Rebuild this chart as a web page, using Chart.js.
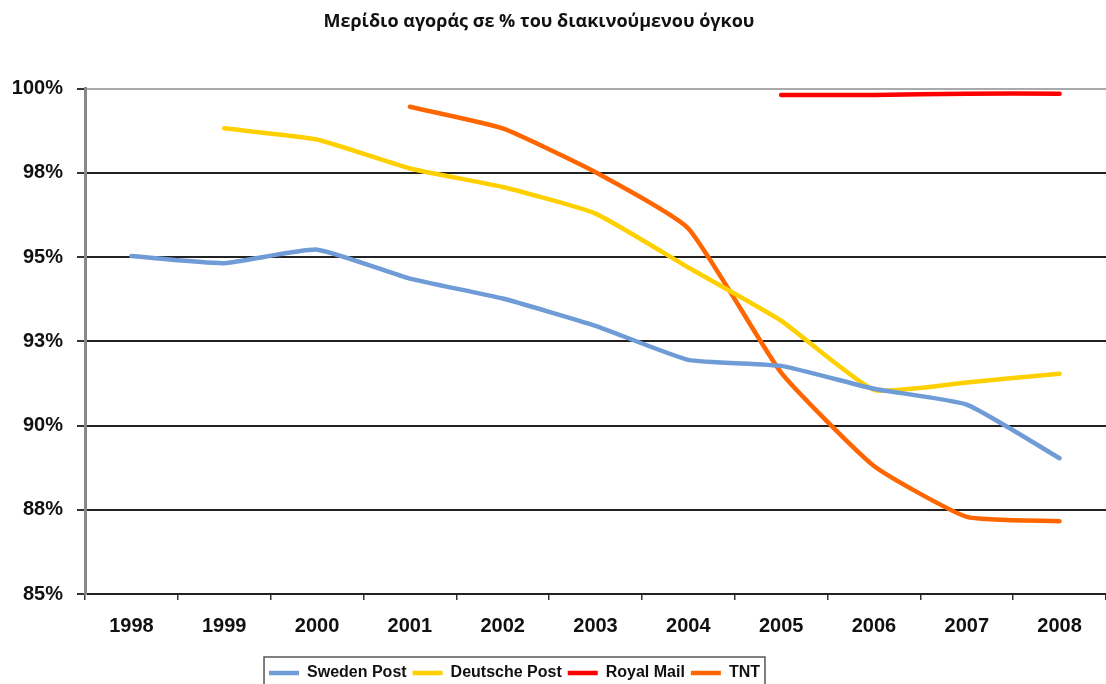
<!DOCTYPE html>
<html>
<head>
<meta charset="utf-8">
<script src="https://cdn.jsdelivr.net/npm/chart.js@4"></script>
<style>
  html, body { margin: 0; padding: 0; background: #fff; overflow: hidden; }
  #wrap { width: 1106px; height: 684px; }
</style>
</head>
<body>
<div id="wrap"><canvas id="myChart" width="1106" height="684"></canvas></div>
<script>
const years = ['1998', '1999', '2000', '2001', '2002', '2003', '2004', '2005', '2006', '2007', '2008'];

// μερίδιο αγοράς (%) ανά εταιρεία, null = δεν υπάρχει τιμή
const swedenPost = [95.03, 94.82, 95.22, 94.36, 93.77, 92.96, 91.95, 91.77, 91.09, 90.62, 89.03];
const deutschePost = [null, 98.82, 98.49, 97.63, 97.08, 96.29, 94.69, 93.11, 91.06, 91.28, 91.54];
const royalMail = [null, null, null, null, null, null, null, 99.81, 99.81, 99.85, 99.85];
const tnt = [null, null, null, 99.46, 98.82, 97.52, 95.85, 91.57, 88.80, 87.29, 87.16];

const yTicks = [85, 87.5, 90, 92.5, 95, 97.5, 100];

const ctx = document.getElementById('myChart').getContext('2d');

function serie(label, data, color) {
  return {
    label: label,
    data: data,
    borderColor: color,
    backgroundColor: color,
    borderWidth: 4.5,
    pointBorderColor: color,
    pointBackgroundColor: color,
    pointBorderWidth: 4.5
  };
}

// μετακίνηση τίτλου / υπομνήματος και πλαίσιο γύρω από το υπόμνημα
const legendFix = {
  id: 'legendFix',
  afterLayout(chart) {
    const lg = chart.legend;
    lg.right = lg.left + 1029;
    lg.width = 1029;
    lg.top += 7;
    lg.bottom += 7;
    const t = chart.titleBlock;
    t.right -= 28;
    t.width -= 28;
  },
  afterDraw(chart) {
    const boxes = chart.legend.legendHitBoxes;
    if (!boxes || !boxes.length) return;
    const first = boxes[0];
    const last = boxes[boxes.length - 1];
    const c = chart.ctx;
    c.save();
    c.strokeStyle = '#555';
    c.lineWidth = 1.5;
    c.strokeRect(first.left - 5, first.top - 8, last.left + last.width - first.left + 10, 40);
    c.restore();
  }
};

let chart = new Chart(ctx, {
  type: 'line',
  data: {
    labels: years,
    datasets: [
      serie('Sweden Post', swedenPost, '#6f9bd6'),
      serie('Deutsche Post', deutschePost, '#ffd000'),
      serie('Royal Mail', royalMail, '#ff0000'),
      serie('TNT', tnt, '#ff6600')
    ]
  },
  options: {
    responsive: false,
    animation: false,
    spanGaps: false,
    layout: { padding: 0 },
    elements: {
      line: { tension: 0.15, borderCapStyle: 'round', borderJoinStyle: 'round', fill: false },
      point: { radius: 0, hoverRadius: 0 }
    },
    plugins: {
      title: {
        display: true,
        text: 'Μερίδιο αγοράς σε % του διακινούμενου όγκου',
        color: '#111',
        font: { family: 'Open Sans', size: 18, weight: 'bold', lineHeight: 1.2 },
        padding: { top: 11, bottom: 56 }
      },
      legend: {
        position: 'bottom',
        labels: {
          usePointStyle: true,
          pointStyle: 'line',
          pointStyleWidth: 30,
          padding: 6,
          color: '#111',
          font: { family: 'Liberation Sans', size: 16, weight: 'bold' }
        }
      },
      tooltip: { enabled: false }
    },
    scales: {
      x: {
        offset: true,
        afterFit(scale) { scale.height = 58; },
        grid: { display: true, drawOnChartArea: false, drawTicks: true, tickLength: 6, offset: true, color: '#333', lineWidth: 1.5 },
        border: { display: true, color: '#222', width: 2 },
        ticks: { color: '#111', padding: 14, maxRotation: 0, font: { family: 'Liberation Sans', size: 20, weight: 'bold' } }
      },
      y: {
        min: 85,
        max: 100,
        afterFit(scale) { scale.width = 85; },
        afterBuildTicks(scale) { scale.ticks = yTicks.map(v => ({ value: v })); },
        grid: {
          color: c => (c.tick && c.tick.value === 100 ? '#aaaaaa' : '#222'),
          lineWidth: 2,
          tickLength: 8,
          tickColor: '#333'
        },
        border: { display: true, color: '#888', width: 3 },
        ticks: {
          color: '#111',
          padding: 14,
          font: { family: 'Liberation Sans', size: 20, weight: 'bold' },
          callback: v => Math.round(v) + '%'
        }
      }
    }
  },
  plugins: [legendFix]
});
</script>
</body>
</html>
